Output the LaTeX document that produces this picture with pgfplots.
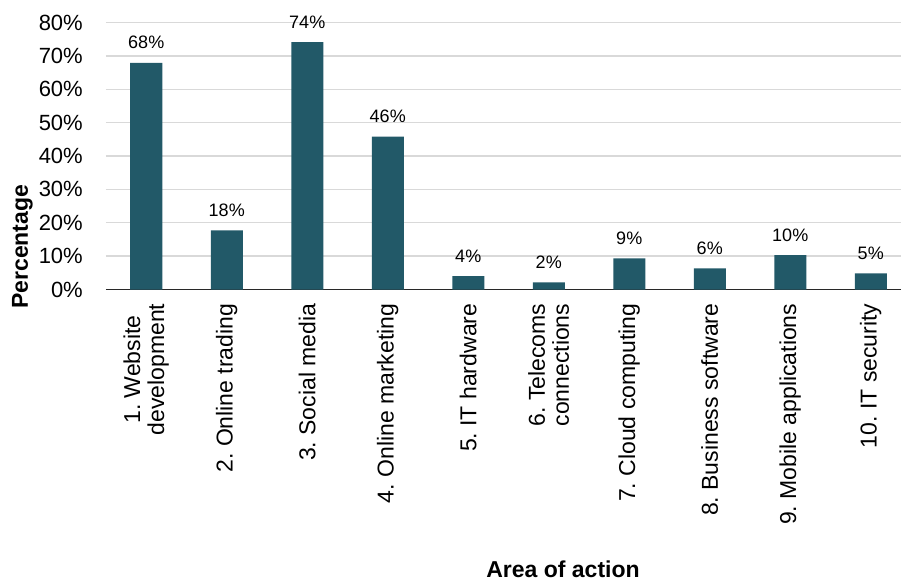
\documentclass[border=0pt]{standalone}
\usepackage{pgfplots}
\pgfplotsset{compat=1.18}
\usepackage{fontspec}
\setmainfont{Liberation Sans}
\definecolor{barcol}{RGB}{34,89,104}
\definecolor{gridcol}{RGB}{217,217,217}
\definecolor{axcol}{RGB}{40,40,40}
\begin{document}
\frenchspacing
\begin{tikzpicture}
\begin{axis}[
  scale only axis,
  width=805pt, height=267pt,
  xmin=-0.5, xmax=9.5,
  ymin=0, ymax=80,
  enlargelimits=false,
  clip=false,
  /pgf/number format/assume math mode=true,
  axis x line*=bottom,
  axis y line*=left,
  y axis line style={draw=none},
  x axis line style={draw=axcol, line width=0.9pt},
  ymajorgrids,
  grid style={gridcol, line width=1.3pt},
  ytick={0,10,...,80},
  yticklabel={\pgfmathprintnumber{\tick}\%},
  ytick style={draw=none},
  yticklabel style={font=\fontsize{22}{26}\selectfont, inner sep=0pt},
  yticklabel shift=23pt,
  xtick={0,...,9},
  xticklabels={{1. Website\\development},{2. Online trading},{3. Social media},{4. Online marketing},{5. IT hardware},{6. Telecoms\\connections},{7. Cloud computing},{8. Business software},{9. Mobile applications},{10. IT security}},
  xtick style={draw=none},
  xticklabel style={rotate=90, anchor=east, align=center, font=\fontsize{23}{24}\selectfont\frenchspacing, inner sep=0pt},
  xticklabel shift=14pt,
  extra x ticks={-0.5,0.5,...,9.5},
  extra x tick labels={},
  extra x tick style={grid=none, tick align=outside, major tick length=6pt, tick style={draw=axcol, line width=0.9pt}},
  xlabel={Area of action},
  xlabel style={at={(axis description cs:0.5677,-1.0468)}, anchor=center, font=\fontsize{23}{27}\selectfont\bfseries},
  ylabel={Percentage},
  ylabel style={at={(axis description cs:-0.1037,0.1603)}, anchor=center, font=\fontsize{23}{27}\selectfont\bfseries},
]
\addplot[ybar, bar width=32pt, fill=barcol, draw=none,
  nodes near coords={\pgfmathprintnumber[fixed,precision=0]{\pgfplotspointmeta}\%},
  every node near coord/.append style={font=\fontsize{18}{20}\selectfont, text=black, inner sep=0pt, anchor=base, yshift=14pt}]
  coordinates {(0,67.9) (1,17.7) (2,74.1) (3,45.8) (4,4.0) (5,2.1) (6,9.3) (7,6.3) (8,10.3) (9,4.8)};
\end{axis}
\pgfresetboundingbox
\path[use as bounding box] (-106pt,-291.5pt) rectangle (795pt,289.5pt);
\end{tikzpicture}
\end{document}
